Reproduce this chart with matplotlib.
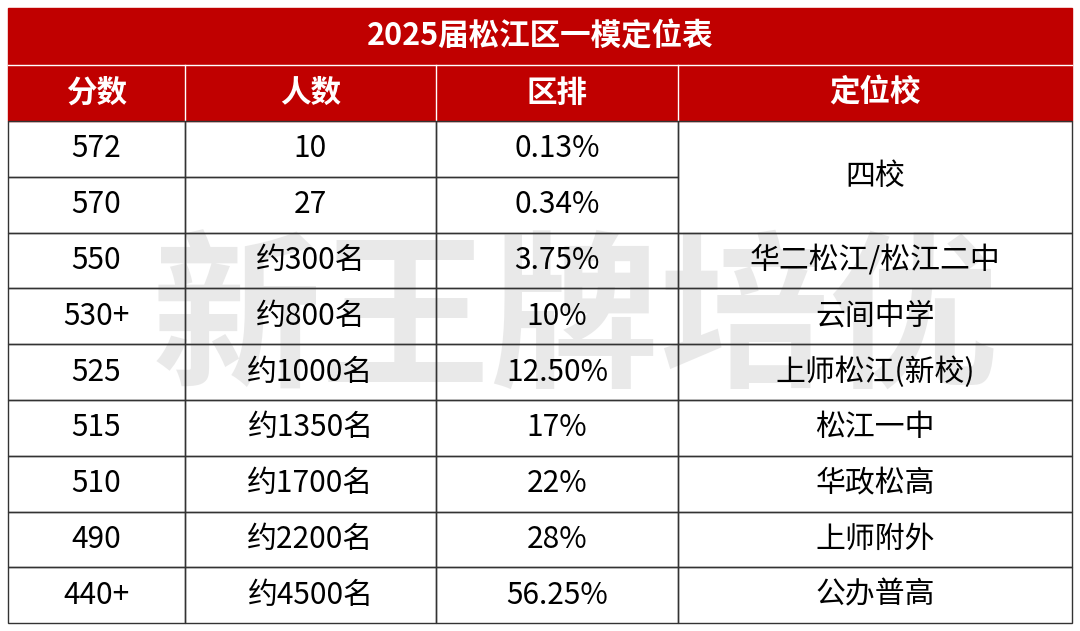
import matplotlib.pyplot as plt
from matplotlib.patches import Rectangle

plt.rcParams['font.family'] = ['Noto Sans CJK SC', 'DejaVu Sans']

title = '2025届松江区一模定位表'
headers = ['分数', '人数', '区排', '定位校']
scores = ['572', '570', '550', '530+', '525', '515', '510', '490', '440+']
counts = ['10', '27', '约300名', '约800名', '约1000名', '约1350名', '约1700名', '约2200名', '约4500名']
ranks = ['0.13%', '0.34%', '3.75%', '10%', '12.50%', '17%', '22%', '28%', '56.25%']
schools = ['四校', '四校', '华二松江/松江二中', '云间中学', '上师松江(新校)', '松江一中', '华政松高', '上师附外', '公办普高']

W, H = 1080, 631
red = '#C00000'
cols = [8, 185, 436, 678, 1072]
top, title_h, head_h, row_h = 8, 57, 56, 55.8
fs = 21.5

fig = plt.figure(figsize=(W / 100, H / 100), dpi=100)
ax = fig.add_axes([0, 0, 1, 1])
ax.set_xlim(0, W)
ax.set_ylim(H, 0)
ax.axis('off')

# title + header band
ax.add_patch(Rectangle((cols[0], top), cols[-1] - cols[0], title_h + head_h, color=red, zorder=1))
ax.text(W / 2, top + title_h / 2, title, color='white', fontsize=22, fontweight='bold',
        ha='center', va='center', zorder=5)
ax.plot([cols[0], cols[-1]], [top + title_h] * 2, color='white', lw=1, zorder=2)
hy = top + title_h
for i, h in enumerate(headers):
    ax.text((cols[i] + cols[i + 1]) / 2, hy + head_h / 2, h, color='white', fontsize=22,
            fontweight='bold', ha='center', va='center', zorder=5)
    if i > 0:
        ax.plot([cols[i]] * 2, [hy, hy + head_h], color='white', lw=1, zorder=2)

# watermark
ax.text(W / 2 + 35, 325, '新王牌培优', color='#d8d8d8', alpha=0.55, fontsize=122,
        fontweight='bold', ha='center', va='center', zorder=3)

y0 = hy + head_h
n = len(scores)
for r in range(n):
    y = y0 + r * row_h
    vals = [scores[r], counts[r], ranks[r]]
    for c in range(3):
        ax.add_patch(Rectangle((cols[c], y), cols[c + 1] - cols[c], row_h, fill=False,
                               ec='#333333', lw=1, zorder=4))
        ax.text((cols[c] + cols[c + 1]) / 2, y + row_h / 2, vals[c], fontsize=fs,
                ha='center', va='center', zorder=5, color='black')
    if r == 0:
        ax.add_patch(Rectangle((cols[3], y), cols[4] - cols[3], 2 * row_h, fill=False,
                               ec='#333333', lw=1, zorder=4))
        ax.text((cols[3] + cols[4]) / 2, y + row_h, schools[r], fontsize=fs,
                ha='center', va='center', zorder=5)
    elif r >= 2:
        ax.add_patch(Rectangle((cols[3], y), cols[4] - cols[3], row_h, fill=False,
                               ec='#333333', lw=1, zorder=4))
        ax.text((cols[3] + cols[4]) / 2, y + row_h / 2, schools[r], fontsize=fs,
                ha='center', va='center', zorder=5)

fig.savefig('out.png', dpi=100)
